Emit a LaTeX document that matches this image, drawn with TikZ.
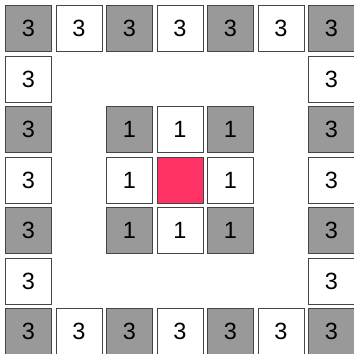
\documentclass[tikz,border=0pt]{standalone}
\usepackage{fontspec}
\setmainfont{Liberation Sans}
\definecolor{cellgray}{HTML}{999999}
\definecolor{celledge}{HTML}{454545}
\definecolor{cellpink}{HTML}{FF3366}
\tikzset{cell/.style={draw=celledge,line width=1pt,minimum size=46pt,inner sep=0pt,
  font=\fontsize{23.5}{23.5}\selectfont}}

\begin{document}
\begin{tikzpicture}[x=1pt,y=-1pt]
\useasboundingbox (0,0) rectangle (354,354);
\clip (0,0) rectangle (354,354);
% cells: ring 3 labelled 3, ring 1 labelled 1, centre pink
\foreach \r in {0,...,6} {
  \foreach \c in {0,...,6} {
    \pgfmathtruncatemacro\ring{max(abs(\r-3),abs(\c-3))}
    \pgfmathtruncatemacro\parity{mod(\r+\c,2)}
    \ifnum\parity=0 \def\fillc{cellgray}\else\def\fillc{white}\fi
    \ifnum\ring=3 \node[cell,fill=\fillc] (c-\r-\c) at (28.5+50.5*\c,28.5+50.5*\r) {3};\fi
    \ifnum\ring=1 \node[cell,fill=\fillc] (c-\r-\c) at (28.5+50.5*\c,28.5+50.5*\r) {1};\fi
    \ifnum\ring=0 \node[cell,fill=cellpink] (c-\r-\c) at (28.5+50.5*\c,28.5+50.5*\r) {};\fi
  }
}
\end{tikzpicture}
\end{document}
